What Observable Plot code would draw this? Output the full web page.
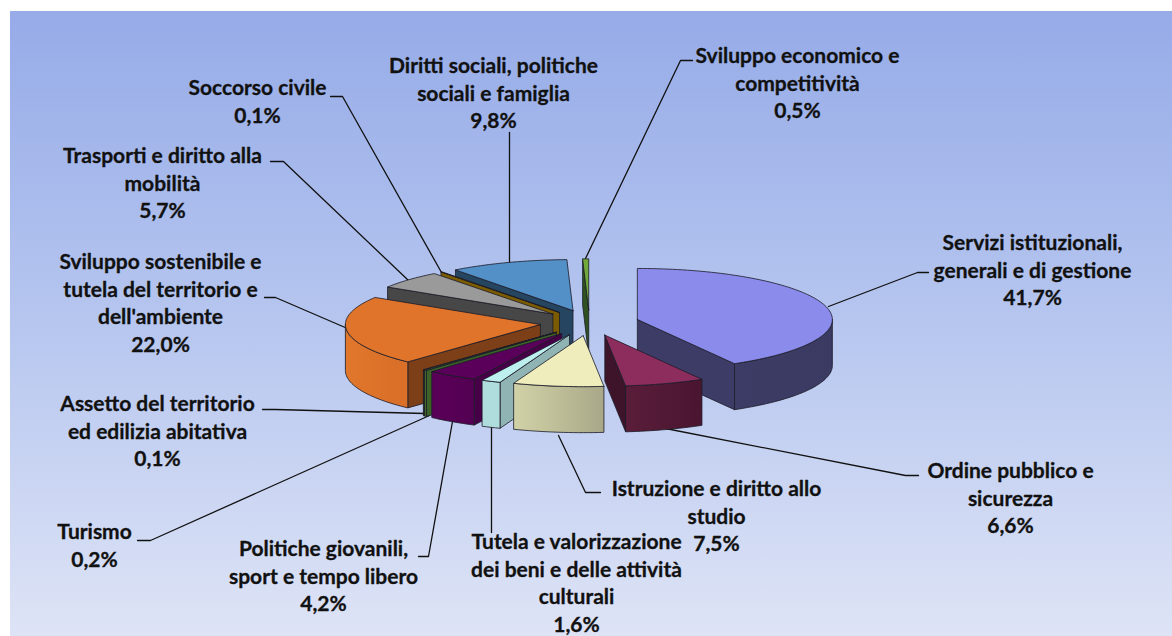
<!DOCTYPE html>
<html><head><meta charset="utf-8">
<style>html,body{margin:0;padding:0;background:#fff}svg{display:block}</style>
<script src="https://cdn.jsdelivr.net/npm/d3@7"></script>
<script src="https://cdn.jsdelivr.net/npm/@observablehq/plot@0.6"></script>
</head><body><div id="chart"></div>
<script>
const names = ["Servizi istituzionali,\ngenerali e di gestione","Ordine pubblico e\nsicurezza","Istruzione e diritto allo\nstudio","Tutela e valorizzazione\ndei beni e delle attività\nculturali","Politiche giovanili,\nsport e tempo libero","Turismo","Assetto del territorio\ned edilizia abitativa","Sviluppo sostenibile e\ntutela del territorio e\ndell'ambiente","Trasporti e diritto alla\nmobilità","Soccorso civile","Diritti sociali, politiche\nsociali e famiglia","Sviluppo economico e\ncompetitività"];
const values = [41.7,6.6,7.5,1.6,4.2,0.2,0.1,22.0,5.7,0.1,9.8,0.5];

const topColors  = ["#8B8BEB","#8C2D5E","#EEEDBB","#BDEFEE","#5A005A","#4F7F35","#35552A","#DF742A","#9A9A9A","#8F6A00","#5490C8","#70A83C"];
const sideColors = ["#3C3C66","#3E142A","#8A8A70","#90B3B3","#470047","#3C6228","#2E4A22","#7D3F17","#474747","#7B5B00","#254560","#2F5020"];
const wallLeft   = ["#3C3C66","#5A1D3A","#D2D2A8","#AFDDDD","#5A0058","#4A7530","#2E4A22","#E0772B","#474747","#7B5B00","#254560","#2F5020"];
const wallRight  = ["#3A3A62","#4A1530","#A8A888","#AFDDDD","#530052","#4A7530","#2E4A22","#D96F28","#474747","#7B5B00","#254560","#2F5020"];

const labelX = [1032,1010,716,576,323,94,157,160,162,257,493,797];
const labelY = [230,458,476,529,536,519,391,249,143,75,53,43];
const leaderPaths = [
  [[828,306],[917,272],[928,272]],
  [[665,428],[905,475],[918,475]],
  [[558,435],[585,492],[600,492]],
  [[491,427],[491,532]],
  [[452,421],[428,556],[418,556]],
  [[429,415],[150,540],[137,540]],
  [[424,413],[275,409],[262,409]],
  [[347,328],[275,297],[264,297]],
  [[408,280],[283,161],[270,161]],
  [[441,272],[342,96],[330,96]],
  [[509,262],[509,132]],
  [[585,258],[680,60],[692,60]]
];

const Cx = 589, Cy = 322.3, rx = 195, ry = 51, explode = 0.254, depth = 46;
const rad = d => d * Math.PI / 180;
const total = d3.sum(values);
let acc = 0;
const slices = values.map((v, i) => {
  const a0 = acc / total * 360; acc += v; const a1 = acc / total * 360;
  const mid = rad((a0 + a1) / 2);
  return {i, a0, a1, mid, cx: Cx + explode * rx * Math.sin(mid), cy: Cy - explode * ry * Math.cos(mid)};
});
const onArc = (s, deg, drop = 0) => ({x: s.cx + rx * Math.sin(rad(deg)), y: s.cy - ry * Math.cos(rad(deg)) + drop});
const apex = (s, drop = 0) => ({x: s.cx, y: s.cy + drop});
const arcPts = (s, a, b, drop = 0) => {
  const n = Math.max(1, Math.ceil((b - a) / 1.5));
  return d3.range(n + 1).map(k => onArc(s, a + (b - a) * k / n, drop));
};
const faceStroke = {stroke: "#1c1c28", strokeWidth: 1, strokeOpacity: 0.8, strokeLinejoin: "round"};
const face = (pts, fill) => Plot.line([...pts, pts[0]], {x: "x", y: "y", fill, ...faceStroke});

const order = slices.slice().sort((p, q) => Math.cos(q.mid) - Math.cos(p.mid));
const pieMarks = order.flatMap(s => {
  const m = [];
  const side = deg => [apex(s), onArc(s, deg), onArc(s, deg, depth), apex(s, depth)];
  if (Math.sin(rad(s.a0)) < -1e-6) m.push(face(side(s.a0), sideColors[s.i]));
  if (Math.sin(rad(s.a1)) > 1e-6) m.push(face(side(s.a1), sideColors[s.i]));
  const w0 = Math.max(s.a0, 90), w1 = Math.min(s.a1, 270);
  if (w1 > w0) m.push(face([...arcPts(s, w0, w1), ...arcPts(s, w0, w1, depth).reverse()], `url(#wall${s.i})`));
  m.push(face([apex(s), ...arcPts(s, s.a0, s.a1)], topColors[s.i]));
  return m;
});

const defs = () => {
  const ns = "http://www.w3.org/2000/svg";
  const d = document.createElementNS(ns, "defs");
  const mk = (id, x2, y2, stops) => {
    const g = document.createElementNS(ns, "linearGradient");
    g.setAttribute("id", id); g.setAttribute("x1", 0); g.setAttribute("y1", 0); g.setAttribute("x2", x2); g.setAttribute("y2", y2);
    stops.forEach(([o, c]) => { const st = document.createElementNS(ns, "stop"); st.setAttribute("offset", o); st.setAttribute("stop-color", c); g.appendChild(st); });
    d.appendChild(g);
  };
  mk("bg", 0, 1, [[0, "#96ABE8"], [0.5, "#B6C6EF"], [1, "#DEE4F6"]]);
  slices.forEach(s => mk(`wall${s.i}`, 1, 0, [[0, wallLeft[s.i]], [1, wallRight[s.i]]]));
  return d;
};
const labels = names.map((n, i) => ({text: `${n}\n${values[i].toFixed(1).replace(".", ",")}%`, x: labelX[i], y: labelY[i]}));
const leaders = leaderPaths.flatMap((p, id) => p.map(([x, y]) => ({id, x, y})));

const chart = Plot.plot({
  width: 1172, height: 636, margin: 0,
  x: {domain: [0, 1172], range: [0, 1172], axis: null},
  y: {domain: [0, 636], range: [0, 636], axis: null},
  style: {background: "transparent"},
  marks: [
    defs,
    Plot.rect([{}], {x1: () => 10, x2: () => 1172, y1: () => 11, y2: () => 636, fill: "url(#bg)"}),
    Plot.line(leaders, {x: "x", y: "y", z: "id", stroke: "#111", strokeWidth: 1.3}),
    ...pieMarks,
    Plot.text(labels, {x: "x", y: "y", text: "text", textAnchor: "middle", lineAnchor: "top", lineHeight: 1.31, fontFamily: "Lato", fontWeight: 700, fontSize: 21, fill: "#111", stroke: "#111", strokeWidth: 0.3})
  ]
});
document.getElementById("chart").appendChild(chart);
</script></body></html>
